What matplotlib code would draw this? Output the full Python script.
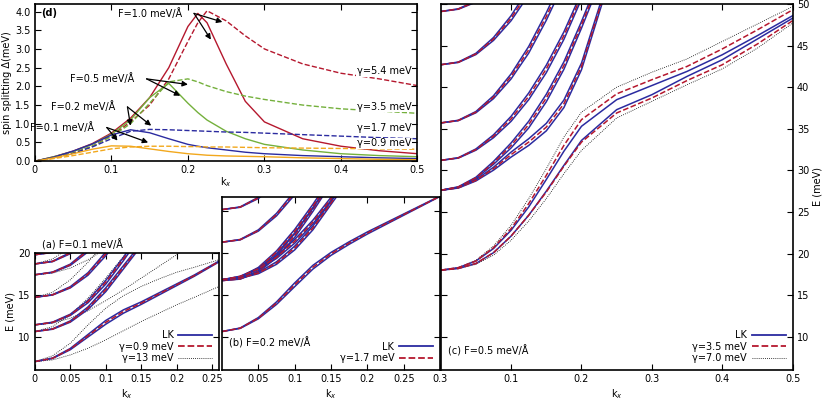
import matplotlib
matplotlib.use("Agg")
import matplotlib.pyplot as plt
from matplotlib.lines import Line2D

RED = "#b5182e"; BLUE = "#2b2ba0"; GREEN = "#74b03c"; ORANGE = "#f2a81d"

# ---------------- panel (d): spin splitting ----------------
d_k = [0, 0.025, 0.05, 0.075, 0.1, 0.125, 0.15, 0.175, 0.2, 0.213, 0.225, 0.25, 0.275, 0.3, 0.35, 0.4, 0.45, 0.5]
d_red_solid = [0, 0.12, 0.27, 0.47, 0.75, 1.15, 1.7, 2.5, 3.6, 3.95, 3.7, 2.6, 1.6, 1.05, 0.6, 0.4, 0.28, 0.2]
d_red_dash = [0, 0.1, 0.22, 0.4, 0.68, 1.05, 1.5, 2.2, 3.2, 3.7, 4.02, 3.75, 3.35, 3.0, 2.6, 2.35, 2.2, 2.02]
d_green_solid = [0, 0.12, 0.26, 0.45, 0.72, 1.1, 1.7, 2.08, 1.55, 1.3, 1.1, 0.8, 0.6, 0.45, 0.3, 0.2, 0.15, 0.12]
d_green_dash = [0, 0.1, 0.22, 0.4, 0.66, 1.0, 1.55, 2.12, 2.2, 2.12, 2.02, 1.86, 1.74, 1.65, 1.5, 1.4, 1.34, 1.28]
d_blue_solid = [0, 0.11, 0.27, 0.46, 0.7, 0.84, 0.76, 0.6, 0.45, 0.4, 0.36, 0.3, 0.24, 0.2, 0.15, 0.12, 0.09, 0.07]
d_blue_dash = [0, 0.09, 0.21, 0.38, 0.6, 0.8, 0.85, 0.84, 0.82, 0.81, 0.8, 0.78, 0.77, 0.75, 0.71, 0.67, 0.63, 0.6]
d_orange_solid = [0, 0.09, 0.2, 0.32, 0.41, 0.4, 0.33, 0.26, 0.2, 0.18, 0.16, 0.14, 0.13, 0.12, 0.09, 0.07, 0.05, 0.04]
d_orange_dash = [0, 0.07, 0.15, 0.24, 0.33, 0.38, 0.4, 0.4, 0.39, 0.39, 0.38, 0.38, 0.37, 0.36, 0.35, 0.34, 0.33, 0.32]
d_gamma_labels = ["γ=5.4 meV", "γ=3.5 meV", "γ=1.7 meV", "γ=0.9 meV"]
d_gamma_y = [2.4, 1.45, 0.9, 0.48]
d_F_labels = ["F=1.0 meV/Å", "F=0.5 meV/Å", "F=0.2 meV/Å", "F=0.1 meV/Å"]

# ---------------- panel (a): F=0.1 ----------------
a_k = [0, 0.025, 0.05, 0.075, 0.1, 0.125, 0.15, 0.175, 0.2, 0.225, 0.26]
a_bands = [
    [7.0, 7.4, 8.5, 10.1, 11.7, 13.0, 14.0, 15.1, 16.2, 17.3, 19.0],
    [10.6, 10.9, 11.8, 13.4, 15.6, 18.3, 21.0, 24, 27, 30, 34],
    [11.4, 11.7, 12.6, 14.2, 16.5, 19.3, 22.3, 25, 28, 31, 35],
    [14.7, 15.0, 15.9, 17.5, 19.9, 22.6, 25.5, 28, 31, 34, 38],
    [17.4, 17.7, 18.6, 20.3, 22.6, 25.4, 28, 31, 34, 37, 41],
    [18.7, 19.0, 20.0, 21.6, 24.0, 27, 30, 33, 36, 39, 43],
    [19.8, 20.1, 21.0, 22.7, 25.0, 28, 31, 34, 37, 40, 44],
]
a_split = [0, 0.05, 0.15, 0.3, 0.45, 0.4, 0.3, 0.25, 0.2, 0.15, 0.1]
a_dot_low = [7.0, 7.2, 7.8, 8.6, 9.6, 10.7, 11.8, 12.8, 13.8, 14.7, 16.0]
a_dot_high = [7.0, 7.7, 9.2, 11.4, 13.4, 14.9, 16.0, 16.9, 17.7, 18.3, 19.2]
a_dot_others = [
    [10.6, 11.2, 12.6, 14.6, 17.0, 19.6, 22, 25, 28, 31, 35],
    [11.4, 11.6, 12.2, 13.1, 14.3, 15.6, 17.0, 18.4, 19.8, 21, 23],
    [14.7, 15.3, 16.8, 18.9, 21.4, 24, 27, 30, 33, 36, 40],
    [17.4, 17.6, 18.2, 19.2, 20.5, 22, 24, 26, 28, 30, 33],
    [18.7, 19.3, 20.7, 22.8, 25, 28, 31, 34, 37, 40, 44],
]

# ---------------- panel (b): F=0.2 ----------------
b_k = [0, 0.025, 0.05, 0.075, 0.1, 0.125, 0.15, 0.175, 0.2, 0.25, 0.3]
b_bands = [
    [10.6, 11.0, 12.2, 14.0, 16.2, 18.3, 19.9, 21.2, 22.4, 24.6, 26.8],
    [16.7, 16.9, 17.8, 19.6, 22.1, 25.2, 28.5, 32, 35, 40, 45],
    [16.8, 17.1, 18.2, 20.1, 22.6, 25.6, 28.9, 32, 35, 40, 45],
    [16.8, 17.0, 17.6, 18.8, 20.6, 23.0, 26.0, 29, 32, 38, 44],
    [16.8, 17.2, 18.1, 19.5, 21.4, 23.7, 26.5, 29.5, 33, 39, 45],
    [21.3, 21.6, 22.7, 24.6, 27.2, 30, 33, 36, 39, 45, 50],
    [25.2, 25.5, 26.6, 28.4, 31, 34, 37, 40, 43, 49, 55],
]
b_split = [0, 0.05, 0.15, 0.3, 0.45, 0.45, 0.35, 0.3, 0.25, 0.15, 0.05]

# ---------------- panel (c): F=0.5 ----------------
c_k = [0, 0.025, 0.05, 0.075, 0.1, 0.125, 0.15, 0.175, 0.2, 0.25, 0.3, 0.35, 0.4, 0.45, 0.5]
c_low_lo = [18.0, 18.2, 18.8, 20.1, 22.1, 24.6, 27.5, 30.6, 33.6, 37.3, 39.1, 41.3, 43.3, 45.8, 48.3]
c_low_hi = [18.0, 18.3, 19.1, 20.6, 22.8, 25.6, 28.9, 32.3, 35.3, 38.5, 40.2, 41.9, 43.9, 46.2, 48.6]
c_low_red_lo = [18.0, 18.2, 18.8, 20.1, 22.1, 24.6, 27.4, 30.5, 33.4, 36.9, 38.7, 40.8, 42.7, 45.2, 48.0]
c_low_red_hi = [18.0, 18.3, 19.1, 20.7, 23.0, 26.0, 29.4, 33.0, 36.1, 39.2, 40.9, 42.5, 44.6, 46.9, 49.3]
c_low_dot_lo = [18.0, 18.2, 18.7, 19.8, 21.6, 23.9, 26.6, 29.6, 32.4, 36.3, 38.3, 40.3, 42.2, 44.7, 47.7]
c_low_dot_hi = [18.0, 18.3, 19.2, 20.9, 23.4, 26.6, 30.2, 34.0, 37.0, 40.0, 41.8, 43.4, 45.5, 47.6, 49.7]
c_bands = [
    [27.6, 27.9, 28.8, 30.2, 31.9, 33.4, 35.2, 38.0, 42.5, 56, 60, 60, 60, 60, 60],
    [27.6, 28.0, 29.1, 30.9, 33.0, 35.5, 38.7, 42.6, 47.5, 58, 60, 60, 60, 60, 60],
    [31.2, 31.5, 32.5, 34.1, 36.2, 38.9, 42.2, 46.2, 51, 60, 60, 60, 60, 60, 60],
    [35.7, 36.0, 37.0, 38.8, 41.3, 44.5, 48.5, 53, 58, 60, 60, 60, 60, 60, 60],
    [42.7, 43.0, 44.0, 45.8, 48.3, 51.5, 55, 59, 60, 60, 60, 60, 60, 60, 60],
    [49.1, 49.4, 50.3, 52, 54.5, 57.5, 60, 60, 60, 60, 60, 60, 60, 60, 60],
]
c_split = [0, 0.05, 0.15, 0.35, 0.6, 0.8, 0.9, 0.9, 0.8, 0.6, 0.5, 0.4, 0.3, 0.2, 0.1]

fs = 7
plt.rcParams.update({"font.family": "DejaVu Sans", "font.size": fs,
                     "xtick.direction": "in", "ytick.direction": "in",
                     "xtick.top": True, "ytick.right": True,
                     "xtick.major.size": 4, "ytick.major.size": 4,
                     "axes.linewidth": 1.2})
fig = plt.figure(figsize=(8.3, 4.03), dpi=100)

def style(ax):
    ax.tick_params(labelsize=fs, pad=3)

# (d)
axd = fig.add_axes([0.042, 0.600, 0.461, 0.390])
for ys, c, ls in [(d_red_solid, RED, "-"), (d_red_dash, RED, "--"),
                  (d_green_solid, GREEN, "-"), (d_green_dash, GREEN, "--"),
                  (d_blue_solid, BLUE, "-"), (d_blue_dash, BLUE, "--"),
                  (d_orange_solid, ORANGE, "-"), (d_orange_dash, ORANGE, "--")]:
    axd.plot(d_k, ys, color=c, ls=ls, lw=1.0)
axd.set_xlim(0, 0.5); axd.set_ylim(0, 4.2)
axd.set_xticks([0, 0.1, 0.2, 0.3, 0.4, 0.5]); axd.set_xticklabels(["0", "0.1", "0.2", "0.3", "0.4", "0.5"])
axd.set_yticks([0, 0.5, 1, 1.5, 2, 2.5, 3, 3.5, 4])
axd.set_yticklabels(["0.0", "0.5", "1.0", "1.5", "2.0", "2.5", "3.0", "3.5", "4.0"])
axd.set_xlabel("k$_x$", labelpad=0); axd.set_ylabel("spin splitting Δ(meV)", labelpad=2)
axd.text(0.008, 3.95, "(d)", fontsize=fs, va="center", fontweight="bold")
for lab, y in zip(d_gamma_labels, d_gamma_y):
    axd.text(0.492, y, lab, ha="right", va="center", fontsize=fs,
             bbox=dict(facecolor="white", edgecolor="none", pad=0.3))
ann = [((0.15, 3.95), [(0.245, 3.72), (0.23, 3.25)]),
       ((0.088, 2.2), [(0.2, 2.05), (0.19, 1.75)]),
       ((0.063, 1.45), [(0.125, 0.95), (0.152, 0.95)]),
       ((0.036, 0.9), [(0.108, 0.55), (0.148, 0.5)])]
for lab, (tp, targets) in zip(d_F_labels, ann):
    axd.text(tp[0], tp[1], lab, ha="center", va="center", fontsize=fs)
    for t in targets:
        axd.annotate("", xy=t, xytext=(tp[0] + 0.058, tp[1]),
                     arrowprops=dict(arrowstyle="-|>", color="black", lw=0.9,
                                     mutation_scale=8, shrinkA=0, shrinkB=0))
style(axd)

# (a)
axa = fig.add_axes([0.042, 0.082, 0.222, 0.290])
for ys in [a_dot_low, a_dot_high] + a_dot_others:
    axa.plot(a_k, ys, color="black", ls=(0, (1, 1.5)), lw=0.6)
for b in a_bands:
    axa.plot(a_k, [e - s / 2 for e, s in zip(b, a_split)], color=BLUE, lw=1.1)
    axa.plot(a_k, [e + s / 2 for e, s in zip(b, a_split)], color=BLUE, lw=1.1)
    axa.plot(a_k, b, color=RED, ls="--", lw=1.1)
axa.set_xlim(0, 0.26); axa.set_ylim(6, 20)
axa.set_xticks([0, 0.05, 0.1, 0.15, 0.2, 0.25]); axa.set_xticklabels(["0", "0.05", "0.1", "0.15", "0.2", "0.25"])
axa.set_yticks([10, 15, 20])
axa.set_xlabel("k$_x$", labelpad=2); axa.set_ylabel("E (meV)", labelpad=2)
axa.text(0.01, 21.0, "(a) F=0.1 meV/Å", fontsize=fs, va="center")
axa.legend([Line2D([], [], color=BLUE, lw=1.3), Line2D([], [], color=RED, ls="--", lw=1.3),
            Line2D([], [], color="black", ls=(0, (1, 1.5)), lw=0.6)],
           ["LK", "γ=0.9 meV", "γ=13 meV"], loc="lower right", frameon=False,
           fontsize=fs, markerfirst=False, handlelength=3.5, labelspacing=0.15,
           borderaxespad=0.3, handletextpad=0.5)
style(axa)

# (b)
axb = fig.add_axes([0.2675, 0.082, 0.2627, 0.429])
for b in b_bands:
    axb.plot(b_k, [e - s / 2 for e, s in zip(b, b_split)], color=BLUE, lw=1.1)
    axb.plot(b_k, [e + s / 2 for e, s in zip(b, b_split)], color=BLUE, lw=1.1)
    axb.plot(b_k, b, color=RED, ls="--", lw=1.1)
axb.set_xlim(0, 0.3); axb.set_ylim(6, 26.7)
axb.set_xticks([0.05, 0.1, 0.15, 0.2, 0.25, 0.3])
axb.set_xticklabels(["0.05", "0.1", "0.15", "0.2", "0.25", "0.3"])
axb.set_yticks([10, 15, 20, 25]); axb.set_yticklabels([])
axb.set_xlabel("k$_x$", labelpad=2)
axb.text(0.01, 9.3, "(b) F=0.2 meV/Å", fontsize=fs, va="center")
axb.legend([Line2D([], [], color=BLUE, lw=1.3), Line2D([], [], color=RED, ls="--", lw=1.3)],
           ["LK", "γ=1.7 meV"], loc="lower right", frameon=False, fontsize=fs,
           markerfirst=False, handlelength=3.5, labelspacing=0.15, borderaxespad=0.3,
           handletextpad=0.5)
style(axb)

# (c)
axc = fig.add_axes([0.531, 0.082, 0.424, 0.908])
for ys in [c_low_dot_lo, c_low_dot_hi]:
    axc.plot(c_k, ys, color="black", ls=(0, (1, 1.5)), lw=0.6)
axc.plot(c_k, c_low_lo, color=BLUE, lw=1.1)
axc.plot(c_k, c_low_hi, color=BLUE, lw=1.1)
axc.plot(c_k, c_low_red_lo, color=RED, ls="--", lw=1.1)
axc.plot(c_k, c_low_red_hi, color=RED, ls="--", lw=1.1)
for b in c_bands:
    axc.plot(c_k, [e - s / 2 for e, s in zip(b, c_split)], color=BLUE, lw=1.1)
    axc.plot(c_k, [e + s / 2 for e, s in zip(b, c_split)], color=BLUE, lw=1.1)
    axc.plot(c_k, b, color=RED, ls="--", lw=1.1)
axc.set_xlim(0, 0.5); axc.set_ylim(6, 50)
axc.set_xticks([0.1, 0.2, 0.3, 0.4, 0.5])
axc.set_yticks([10, 15, 20, 25, 30, 35, 40, 45, 50])
axc.yaxis.tick_right(); axc.yaxis.set_label_position("right")
axc.tick_params(axis="y", left=True)
axc.set_xlabel("k$_x$", labelpad=2); axc.set_ylabel("E (meV)", labelpad=2)
axc.text(0.01, 8.3, "(c) F=0.5 meV/Å", fontsize=fs, va="center")
axc.legend([Line2D([], [], color=BLUE, lw=1.3), Line2D([], [], color=RED, ls="--", lw=1.3),
            Line2D([], [], color="black", ls=(0, (1, 1.5)), lw=0.6)],
           ["LK", "γ=3.5 meV", "γ=7.0 meV"], loc="lower right", frameon=False,
           fontsize=fs, markerfirst=False, handlelength=3.5, labelspacing=0.15,
           borderaxespad=0.3, handletextpad=0.5)
style(axc)

fig.savefig("out.png", dpi=100)
